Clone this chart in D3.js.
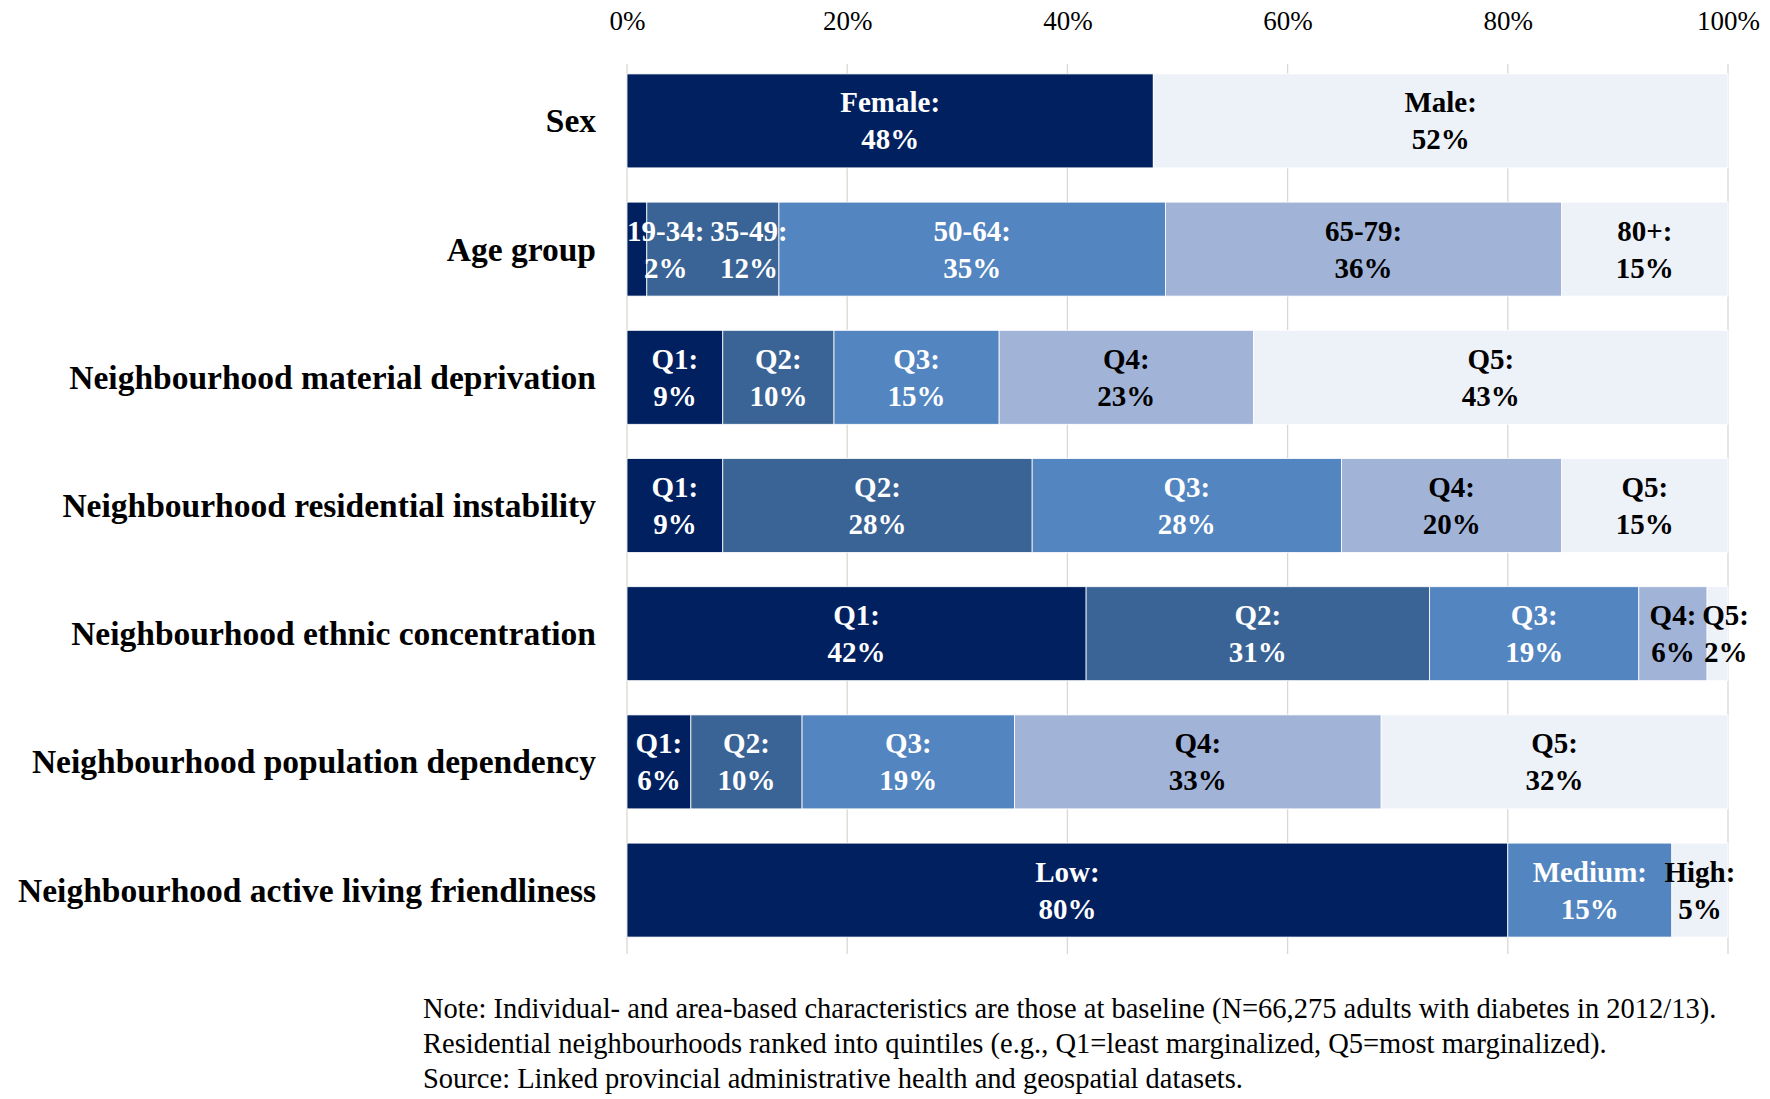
<!DOCTYPE html>
<html>
<head>
<meta charset="UTF-8">
<title>Baseline characteristics</title>
<script src="https://cdn.jsdelivr.net/npm/d3@7"></script>
<style>
  body { margin: 0; background: #fff; }
  svg text { font-family: "Liberation Serif", "DejaVu Serif", serif; }
</style>
</head>
<body>
<svg id="chart" width="1770" height="1099"></svg>
<script>
// categories (top to bottom)
var categories = [
  "Sex",
  "Age group",
  "Neighbourhood material deprivation",
  "Neighbourhood residential instability",
  "Neighbourhood ethnic concentration",
  "Neighbourhood population dependency",
  "Neighbourhood active living friendliness"
];

// segment names per category
var segNames = [
  ["Female", "Male"],
  ["19-34", "35-49", "50-64", "65-79", "80+"],
  ["Q1", "Q2", "Q3", "Q4", "Q5"],
  ["Q1", "Q2", "Q3", "Q4", "Q5"],
  ["Q1", "Q2", "Q3", "Q4", "Q5"],
  ["Q1", "Q2", "Q3", "Q4", "Q5"],
  ["Low", "Medium", "High"]
];

// percentages per category
var segValues = [
  [47.8, 52.2],
  [1.8, 12.0, 35.1, 36.0, 15.1],
  [8.7, 10.1, 15.0, 23.1, 43.1],
  [8.7, 28.1, 28.1, 20.0, 15.1],
  [41.7, 31.2, 19.0, 6.2, 1.9],
  [5.8, 10.1, 19.3, 33.3, 31.5],
  [80.0, 14.9, 5.1]
];

// colour index per segment (0 = darkest)
var segShades = [
  [0, 4],
  [0, 1, 2, 3, 4],
  [0, 1, 2, 3, 4],
  [0, 1, 2, 3, 4],
  [0, 1, 2, 3, 4],
  [0, 1, 2, 3, 4],
  [0, 2, 4]
];

var xTicks = [0, 20, 40, 60, 80, 100];

var notes = [
  "Note: Individual- and area-based characteristics are those at baseline (N=66,275 adults with diabetes in 2012/13).",
  "Residential neighbourhoods ranked into quintiles (e.g., Q1=least marginalized, Q5=most marginalized).",
  "Source: Linked provincial administrative health and geospatial datasets."
];

var palette = ["#002060", "#3a6496", "#5385c0", "#a1b4d8", "#edf1f8"];
var textColor = ["#fff", "#fff", "#fff", "#000", "#000"];

var svg = d3.select("#chart");
var left = 627, right = 1728;

var x = d3.scaleLinear().domain([0, 100]).range([left, right]);
var y = d3.scaleBand().domain(categories).range([57, 954])
  .paddingInner(0.267).paddingOuter(0.132);

// grid
svg.append("g").selectAll("line").data(xTicks).enter().append("line")
  .attr("x1", function(d) { return x(d); })
  .attr("x2", function(d) { return x(d); })
  .attr("y1", 64).attr("y2", 954)
  .attr("stroke", "#dcd8d0").attr("stroke-width", 1.3);

// top axis
var axis = d3.axisTop(x).tickValues(xTicks).tickSize(0).tickPadding(0)
  .tickFormat(function(d) { return d + "%"; });
var ag = svg.append("g").attr("transform", "translate(0,30)").call(axis);
ag.select(".domain").remove();
ag.selectAll("text").style("font-family", "Liberation Serif").style("font-size", "27px")
  .attr("fill", "#000").attr("dy", "0");

// category labels
svg.append("g").selectAll("text").data(categories).enter().append("text")
  .attr("x", 596)
  .attr("y", function(d) { return y(d) + y.bandwidth() / 2; })
  .attr("dominant-baseline", "central")
  .attr("text-anchor", "end")
  .style("font-size", "33.5px").style("font-weight", "bold")
  .text(function(d) { return d; });

// bars
categories.forEach(function(cat, i) {
  var cum = 0;
  var segs = segValues[i].map(function(v, j) {
    var s = { name: segNames[i][j], v: v, x0: cum, shade: segShades[i][j] };
    cum += v;
    return s;
  });
  var g = svg.append("g");
  g.selectAll("rect").data(segs).enter().append("rect")
    .attr("x", function(d) { return x(d.x0); })
    .attr("y", y(cat))
    .attr("width", function(d) { return x(d.x0 + d.v) - x(d.x0); })
    .attr("height", y.bandwidth())
    .attr("fill", function(d) { return palette[d.shade]; })
    .attr("stroke", "#fff").attr("stroke-width", 0.8);

  var cy = y(cat) + y.bandwidth() / 2;
  var prevRight = -Infinity;
  segs.forEach(function(d) {
    var t = g.append("text")
      .attr("text-anchor", "middle")
      .style("font-size", "29px").style("font-weight", "bold")
      .attr("fill", textColor[d.shade]);
    t.append("tspan").attr("y", cy - 18.5).attr("dominant-baseline", "central").text(d.name + ":");
    t.append("tspan").attr("y", cy + 18.5).attr("dominant-baseline", "central").text(Math.round(d.v) + "%");
    var w = d3.max(t.selectAll("tspan").nodes(), function(n) { return n.getComputedTextLength(); });
    var lx = x(d.x0 + d.v / 2) - w / 2;
    if (lx < left) lx = left;
    if (lx < prevRight + 6) lx = prevRight + 6;
    prevRight = lx + w;
    t.selectAll("tspan").attr("x", lx + w / 2);
  });
});

// notes
svg.append("g").selectAll("text").data(notes).enter().append("text")
  .attr("x", 423)
  .attr("y", function(d, i) { return 1008 + i * 35; })
  .attr("dominant-baseline", "central")
  .style("font-size", "28.5px")
  .text(function(d) { return d; });
</script>
</body>
</html>
